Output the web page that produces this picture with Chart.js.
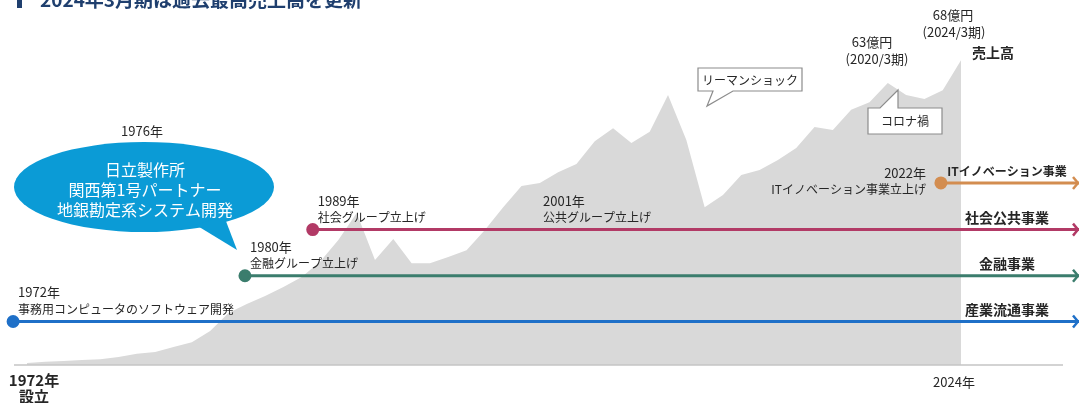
<!DOCTYPE html>
<html>
<head>
<meta charset="utf-8">
<script src="https://cdn.jsdelivr.net/npm/chart.js@4"></script>
<style>
  html, body { margin: 0; padding: 0; background: #ffffff; }
  #wrap { width: 1079px; height: 403px; position: relative; }
</style>
</head>
<body>
<div id="wrap"><canvas id="historyChart"></canvas></div>
<script>
// fiscal years (March period) and sales in 億円
const fiscalYears = [1973, 1974, 1975, 1976, 1977, 1978, 1979, 1980, 1981, 1982,
    1983, 1984, 1985, 1986, 1987, 1988, 1989, 1990, 1991, 1992,
    1993, 1994, 1995, 1996, 1997, 1998, 1999, 2000, 2001, 2002,
    2003, 2004, 2005, 2006, 2007, 2008, 2009, 2010, 2011, 2012,
    2013, 2014, 2015, 2016, 2017, 2018, 2019, 2020, 2021, 2022,
    2023, 2024];
const salesOku = [0.45, 0.7, 0.9, 1.1, 1.3, 1.8, 2.5, 2.9, 4.0, 5.1,
    7.6, 11.6, 13.6, 15.4, 17.4, 19.6, 23.0, 27.9, 33.9, 23.4,
    28.1, 22.7, 22.7, 24.1, 25.6, 30.1, 35.2, 39.9, 40.6, 43.0,
    44.8, 49.9, 52.8, 49.5, 52.0, 60.2, 50.2, 35.2, 37.9, 42.4,
    43.5, 45.7, 48.4, 53.1, 52.4, 56.9, 58.6, 62.9, 60.2, 59.3,
    61.3, 68.0];

// business lines: where each starts and its lane height
const segmentNames = ["産業流通事業", "金融事業", "社会公共事業", "ITイノベーション事業"];
const segmentStart = [1972.24, 1984.9, 1988.6, 2022.9];
const segmentLevel = [9.7, 19.9, 30.2, 40.6];
const segmentColors = ["#1f70c8", "#3b7d6d", "#b23a66", "#d38d50"];
const segmentEnd = 2030.44;

const milestoneYears = ["1972年", "1980年", "1989年", "2022年"];
const milestoneTexts = ["事務用コンピュータのソフトウェア開発", "金融グループ立上げ", "社会グループ立上げ", "ITイノベーション事業立上げ"];

const FONT = "'Noto Sans CJK JP', 'Noto Sans', sans-serif";
const TEXT = "#262626";

const salesData = fiscalYears.map((y, i) => ({ x: y, y: salesOku[i] }));

const segmentSets = segmentNames.map((name, i) => ({
    label: name,
    data: [{ x: segmentStart[i], y: segmentLevel[i] }, { x: segmentEnd, y: segmentLevel[i] }],
    borderColor: segmentColors[i],
    backgroundColor: segmentColors[i],
    borderWidth: 3,
    pointRadius: [5, 0],
    pointHoverRadius: 0,
    fill: false,
    clip: false,
    order: 0
}));

function txt(ctx, s, x, y, opt) {
    opt = opt || {};
    ctx.save();
    ctx.font = (opt.bold ? "bold " : "") + (opt.size || 12) + "px " + FONT;
    ctx.fillStyle = opt.color || TEXT;
    ctx.textAlign = opt.align || "left";
    ctx.textBaseline = opt.base || "middle";
    ctx.fillText(s, x, y);
    ctx.restore();
}

function callout(ctx, x1, y1, x2, y2, tail) {
    ctx.save();
    ctx.beginPath();
    ctx.moveTo(x1, y1);
    if (tail.side === "top") {
        ctx.lineTo(tail.a, y1);
        ctx.lineTo(tail.tx, tail.ty);
        ctx.lineTo(tail.b, y1);
        ctx.lineTo(x2, y1);
        ctx.lineTo(x2, y2);
        ctx.lineTo(x1, y2);
    } else {
        ctx.lineTo(x2, y1);
        ctx.lineTo(x2, y2);
        ctx.lineTo(tail.b, y2);
        ctx.lineTo(tail.tx, tail.ty);
        ctx.lineTo(tail.a, y2);
        ctx.lineTo(x1, y2);
    }
    ctx.closePath();
    ctx.fillStyle = "#ffffff";
    ctx.fill();
    ctx.strokeStyle = "#8c8c8c";
    ctx.lineWidth = 1.2;
    ctx.stroke();
    ctx.restore();
}

const annotations = {
    id: "annotations",
    afterDatasetsDraw(chart) {
        const ctx = chart.ctx;
        const xs = chart.scales.x, ys = chart.scales.y;

        // baseline
        ctx.save();
        ctx.strokeStyle = "#c4c4c4";
        ctx.lineWidth = 1.5;
        ctx.beginPath();
        ctx.moveTo(14, ys.getPixelForValue(0));
        ctx.lineTo(1063, ys.getPixelForValue(0));
        ctx.stroke();
        ctx.restore();

        // arrow heads at the end of each business line
        segmentLevel.forEach((lv, i) => {
            const px = xs.getPixelForValue(segmentEnd) - 1, py = ys.getPixelForValue(lv);
            ctx.save();
            ctx.strokeStyle = segmentColors[i];
            ctx.lineWidth = 2.5;
            ctx.beginPath();
            ctx.moveTo(px - 5, py - 6);
            ctx.lineTo(px, py);
            ctx.lineTo(px - 5, py + 6);
            ctx.stroke();
            ctx.restore();
            const sz = i === 3 ? 12 : 14;
            txt(ctx, segmentNames[i], 1007, py - 12, { bold: true, align: "center", size: sz });
        });

        // milestone captions
        for (let i = 0; i < 3; i++) {
            const px = xs.getPixelForValue(segmentStart[i]) + 5;
            const py = ys.getPixelForValue(segmentLevel[i]);
            txt(ctx, milestoneYears[i], px, py - 29, { size: 13 });
            txt(ctx, milestoneTexts[i], px, py - 12);
        }
        const pyM = ys.getPixelForValue(segmentLevel[2]);
        txt(ctx, "2001年", 543, pyM - 29, { size: 13 });
        txt(ctx, "公共グループ立上げ", 543, pyM - 12);
        const pyIT = ys.getPixelForValue(segmentLevel[3]);
        txt(ctx, milestoneYears[3], 926, pyIT - 10, { align: "right", size: 13 });
        txt(ctx, milestoneTexts[3], 926, pyIT + 6, { align: "right" });

        // record labels
        txt(ctx, "63億円", 872, 42, { align: "center", size: 13 });
        txt(ctx, "(2020/3期)", 877, 59, { align: "center", size: 13 });
        txt(ctx, "68億円", 953, 15, { align: "center", size: 13 });
        txt(ctx, "(2024/3期)", 954, 32, { align: "center", size: 13 });
        txt(ctx, "売上高", 993, 53, { align: "center", bold: true, size: 14 });

        // callouts
        callout(ctx, 698, 68, 802, 91, { side: "bottom", a: 713, b: 733, tx: 707, ty: 106 });
        txt(ctx, "リーマンショック", 750, 80, { align: "center" });
        callout(ctx, 868, 108, 942, 134, { side: "top", a: 880, b: 898, tx: 898, ty: 90 });
        txt(ctx, "コロナ禍", 905, 121, { align: "center" });

        // 1976 speech bubble
        txt(ctx, "1976年", 142, 131, { align: "center", size: 13 });
        ctx.save();
        ctx.fillStyle = "#0b9bd6";
        ctx.beginPath();
        ctx.ellipse(144, 187, 130, 45, 0, 0, Math.PI * 2);
        ctx.fill();
        ctx.beginPath();
        ctx.moveTo(196, 225);
        ctx.lineTo(237, 250);
        ctx.lineTo(224, 216);
        ctx.closePath();
        ctx.fill();
        ctx.restore();
        txt(ctx, "日立製作所", 145, 170, { align: "center", color: "#ffffff", size: 16 });
        txt(ctx, "関西第1号パートナー", 145, 190, { align: "center", color: "#ffffff", size: 16 });
        txt(ctx, "地銀勘定系システム開発", 145, 210, { align: "center", color: "#ffffff", size: 16 });

        // bottom year labels
        txt(ctx, "1972年", 34, 380, { align: "center", bold: true, size: 15 });
        txt(ctx, "設立", 34, 396, { align: "center", bold: true, size: 15 });
        txt(ctx, "2024年", 954, 382, { align: "center", size: 13 });

        // heading, cut off by the top edge
        ctx.save();
        ctx.fillStyle = "#1f3f6e";
        ctx.fillRect(17, -10, 5, 18);
        ctx.restore();
        txt(ctx, "2024年3月期は過去最高売上高を更新", 40, 7, { bold: true, size: 19, base: "alphabetic", color: "#1f3f6e" });
    }
};

new Chart(document.getElementById("historyChart"), {
    type: "line",
    data: {
        datasets: [
            {
                label: "売上高",
                data: salesData,
                borderWidth: 0,
                borderColor: "rgba(0,0,0,0)",
                backgroundColor: "#d9d9d9",
                pointRadius: 0,
                fill: "origin",
                tension: 0,
                order: 10
            },
            ...segmentSets
        ]
    },
    options: {
        responsive: true,
        maintainAspectRatio: false,
        animation: false,
        layout: { autoPadding: false, padding: { left: 0, right: 0, top: 0, bottom: 38 } },
        plugins: {
            legend: { display: false },
            tooltip: { enabled: false }
        },
        scales: {
            x: { type: "linear", min: 1971.525, max: 2030.44, display: false },
            y: { min: 0, max: 81.4, display: false }
        }
    },
    plugins: [annotations]
});
</script>
</body>
</html>
